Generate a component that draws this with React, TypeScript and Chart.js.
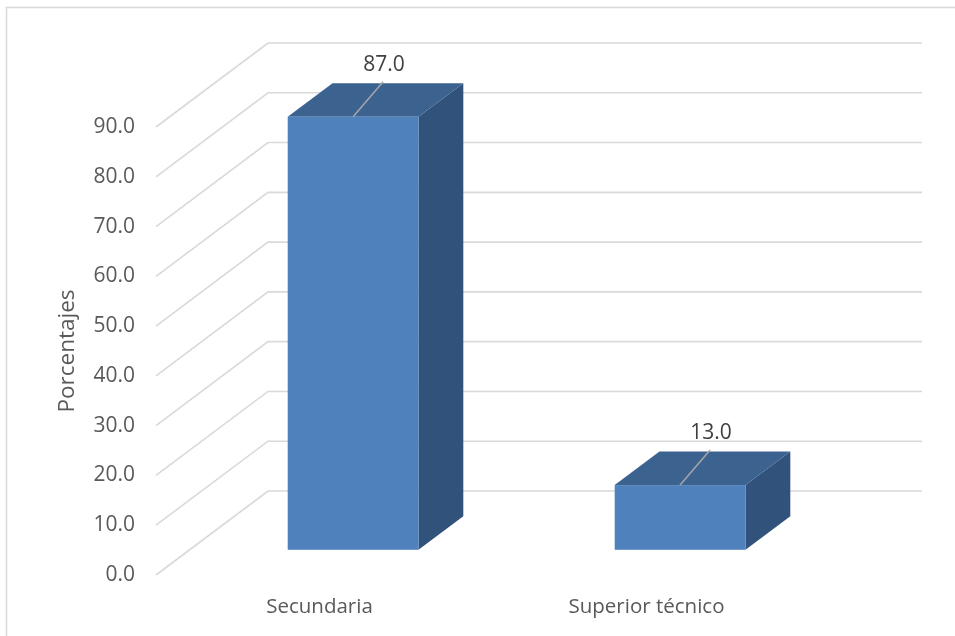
import React, { useEffect, useRef } from "react";
import { Chart, registerables } from "chart.js";

Chart.register(...registerables);

const categories = ["Secundaria", "Superior técnico"];
const values = [87.0, 13.0];
const yTickMax = 90;
const yTickStep = 10;
const yAxisTitle = "Porcentajes";

const FONT = "'Open Sans', 'Noto Sans', sans-serif";
const DEPTH_X = 112;
const DEPTH_Y = -84;
const BAR_FRONT = 0.3;
const BAR_BACK = 0.7;

const threeD = {
  id: "threeD",
  beforeDraw(chart: any) {
    const ctx = chart.ctx;
    ctx.save();
    ctx.fillStyle = "#ffffff";
    ctx.fillRect(0, 0, chart.width, chart.height);
    ctx.strokeStyle = "#d9d9d9";
    ctx.lineWidth = 1.5;
    ctx.beginPath();
    ctx.moveTo(6.5, chart.height);
    ctx.lineTo(6.5, 7.5);
    ctx.lineTo(chart.width, 7.5);
    ctx.stroke();
    ctx.restore();
  },
  beforeDatasetsDraw(chart: any) {
    const ctx = chart.ctx;
    const ys = chart.scales.y;
    const { left, right } = chart.chartArea;
    ctx.save();
    ctx.strokeStyle = "#d9d9d9";
    ctx.lineWidth = 1.6;
    ys.ticks.forEach((t: any) => {
      const y = ys.getPixelForValue(t.value);
      ctx.beginPath();
      ctx.moveTo(left, y);
      ctx.lineTo(left + DEPTH_X, y + DEPTH_Y);
      ctx.lineTo(right + DEPTH_X, y + DEPTH_Y);
      ctx.stroke();
    });
    ctx.restore();
  },
  afterDatasetsDraw(chart: any) {
    const ctx = chart.ctx;
    const meta = chart.getDatasetMeta(0);
    const fx = DEPTH_X * BAR_FRONT, fy = DEPTH_Y * BAR_FRONT;
    const bx = DEPTH_X * BAR_BACK, by = DEPTH_Y * BAR_BACK;
    ctx.save();
    meta.data.forEach((el: any, i: number) => {
      const p = el.getProps(["x", "y", "base", "width"], true);
      const x1 = p.x - p.width / 2, x2 = p.x + p.width / 2;
      const yt = p.y, yb = p.base;
      // side face
      ctx.fillStyle = "#31537b";
      ctx.beginPath();
      ctx.moveTo(x2 + fx, yt + fy);
      ctx.lineTo(x2 + bx, yt + by);
      ctx.lineTo(x2 + bx, yb + by);
      ctx.lineTo(x2 + fx, yb + fy);
      ctx.closePath();
      ctx.fill();
      // top face
      ctx.fillStyle = "#3c6390";
      ctx.beginPath();
      ctx.moveTo(x1 + fx, yt + fy);
      ctx.lineTo(x1 + bx, yt + by);
      ctx.lineTo(x2 + bx, yt + by);
      ctx.lineTo(x2 + fx, yt + fy);
      ctx.closePath();
      ctx.fill();
      // front face
      ctx.fillStyle = "#4f81bd";
      ctx.fillRect(x1 + fx, yt + fy, x2 - x1, yb - yt);
      // leader line and label
      const cx = p.x + fx, cy = yt + fy;
      ctx.strokeStyle = "#a6a6a6";
      ctx.lineWidth = 1.5;
      ctx.beginPath();
      ctx.moveTo(cx, cy);
      ctx.lineTo(cx + 30, cy - 35);
      ctx.stroke();
      ctx.fillStyle = "#404040";
      ctx.font = `21px ${FONT}`;
      ctx.textAlign = "center";
      ctx.textBaseline = "middle";
      ctx.fillText(values[i].toFixed(1), cx + 31, cy - 52);
    });
    ctx.restore();
  },
};

export default function App() {
  const ref = useRef<HTMLCanvasElement | null>(null);
  useEffect(() => {
    document.body.style.margin = "0";
    const chart = new Chart(ref.current as HTMLCanvasElement, {
      type: "bar",
      data: {
        labels: categories,
        datasets: [
          {
            data: values,
            backgroundColor: "rgba(0,0,0,0)",
            borderWidth: 0,
            barPercentage: 1,
            categoryPercentage: 0.4,
          },
        ],
      },
      options: {
        animation: false,
        responsive: false,
        layout: { padding: { left: 0, top: 127, right: 145, bottom: 0 } },
        plugins: { legend: { display: false }, tooltip: { enabled: false } },
        scales: {
          x: {
            grid: { display: false, drawTicks: false },
            border: { display: false },
            ticks: { color: "#595959", font: { family: FONT, size: 20.5 }, padding: 20 },
            afterFit: (s: any) => {
              s.height = 61;
            },
          },
          y: {
            min: 0,
            max: yTickMax,
            grid: { display: false, drawTicks: false },
            border: { display: false },
            ticks: {
              stepSize: yTickStep,
              color: "#595959",
              font: { family: FONT, size: 21 },
              padding: 21,
              callback: (v: any) => Number(v).toFixed(1),
            },
            title: {
              display: true,
              text: yAxisTitle,
              color: "#595959",
              font: { family: FONT, size: 22.5 },
              padding: 54,
            },
            afterFit: (s: any) => {
              s.width = 156;
            },
          },
        },
      },
      plugins: [threeD],
    });
    return () => chart.destroy();
  }, []);
  return (
    <div style={{ position: "fixed", left: 0, top: 0, width: 955, height: 636 }}>
      <canvas ref={ref} width={955} height={636} />
    </div>
  );
}
